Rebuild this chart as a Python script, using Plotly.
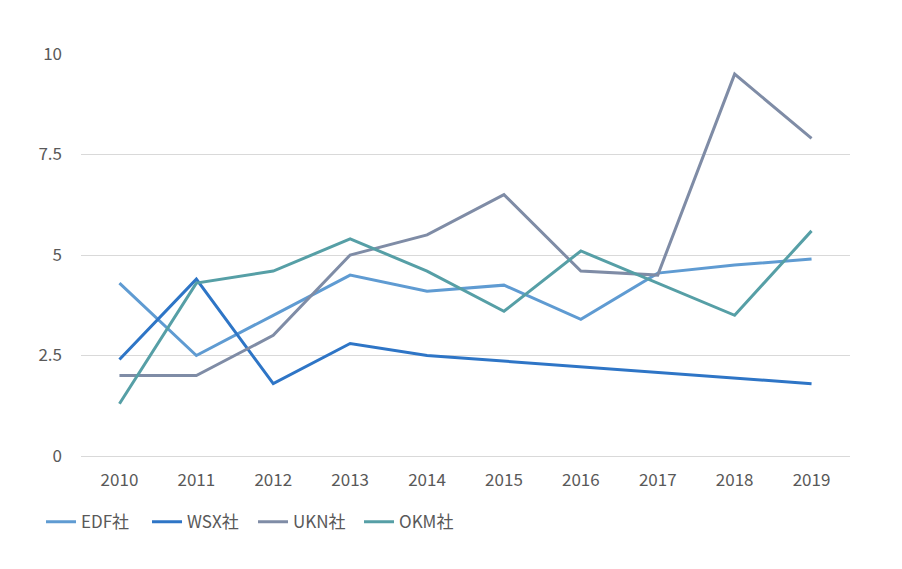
import plotly.graph_objects as go

years = ["2010", "2011", "2012", "2013", "2014", "2015", "2016", "2017", "2018", "2019"]
edf = [4.3, 2.5, 3.5, 4.5, 4.1, 4.25, 3.4, 4.55, 4.75, 4.9]
wsx = [2.4, 4.4, 1.8, 2.8, 2.5, 2.36, 2.22, 2.08, 1.94, 1.8]
ukn = [2.0, 2.0, 3.0, 5.0, 5.5, 6.5, 4.6, 4.5, 9.5, 7.9]
okm = [1.3, 4.3, 4.6, 5.4, 4.6, 3.6, 5.1, 4.3, 3.5, 5.6]

names = ["EDF社", "WSX社", "UKN社", "OKM社"]
colors = ["#5F9BD2", "#2E75C6", "#7F8CA6", "#569FA6"]
series = [edf, wsx, ukn, okm]

font_family = "Noto Sans CJK JP, Noto Sans, sans-serif"

fig = go.Figure()
for n, c, s in zip(names, colors, series):
    fig.add_trace(go.Scatter(x=years, y=s, name=n, mode="lines",
                             line=dict(color=c, width=3)))

fig.update_layout(
    width=902, height=569,
    margin=dict(l=81, r=52, t=54, b=113),
    paper_bgcolor="white", plot_bgcolor="white",
    font=dict(family=font_family, size=17, color="#595959"),
    showlegend=True,
    legend=dict(orientation="h", x=-0.052, xanchor="left", y=-0.12, yanchor="top",
                font=dict(size=17, color="#595959"), entrywidth=61,
                tracegroupgap=0),
    xaxis=dict(type="category", range=[-0.5, 9.5], showgrid=False, zeroline=False,
               showline=True, linecolor="#D9D9D9", linewidth=1, ticks="",
               ticklabelstandoff=9,
               tickfont=dict(size=17, color="#595959")),
    yaxis=dict(range=[0, 10], tickvals=[0, 2.5, 5, 7.5, 10],
               ticktext=["0", "2.5", "5", "7.5", "10"],
               showgrid=True, gridcolor="#D9D9D9", gridwidth=1,
               zeroline=False, showline=False, ticks="", ticklabelstandoff=18,
               tickfont=dict(size=17, color="#595959")),
)

fig.write_html("out.html")
